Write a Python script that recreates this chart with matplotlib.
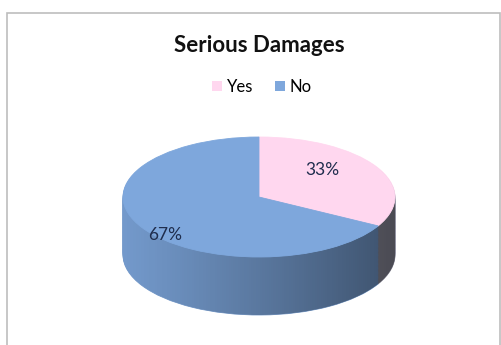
import matplotlib
matplotlib.use("Agg")
import matplotlib.pyplot as plt
import numpy as np
from matplotlib.patches import Rectangle, Polygon, Patch

# data
labels = ["Yes", "No"]
values = [33, 67]
top_colors = ["#FFD7EF", "#7EA7DC"]
side_colors = ["#8C8C9C", "#7399CB"]

plt.rcParams['font.family'] = ['Lato', 'DejaVu Sans']

W, H = 502, 345
fig = plt.figure(figsize=(W / 100, H / 100), dpi=100)
fig.patch.set_facecolor("white")

# chart frame
fig.patches.append(Rectangle((7 / W, -0.05), 493 / W, 1 - 13 / H + 0.05,
                             transform=fig.transFigure, fill=False,
                             edgecolor="#BDBDBD", linewidth=1.2))

# pie area (pixel box)
x0, x1, ytop, ybot = 123, 395, 137, 315
ry = 60.0
depth = 58.0 / ry
ax = fig.add_axes([x0 / W, 1 - ybot / H, (x1 - x0) / W, (ybot - ytop) / H])

# side of the 3d pie: stacked layers
for d in np.linspace(depth, 0.02, 45):
    ws, _ = ax.pie(values, colors=side_colors, startangle=90, counterclock=False,
                   center=(0, -d), radius=1, wedgeprops=dict(linewidth=0.6))
    for w in ws:
        w.set_edgecolor(w.get_facecolor())

# shading of the side band
t = np.linspace(np.pi, 2 * np.pi, 200)
band = np.concatenate([np.c_[np.cos(t), np.sin(t)],
                       np.c_[np.cos(t[::-1]), np.sin(t[::-1]) - depth]])
band_patch = Polygon(band, closed=True, facecolor="none", edgecolor="none")
ax.add_patch(band_patch)
grad = np.zeros((2, 256, 4))
grad[..., 3] = np.linspace(0.0, 0.5, 256) ** 1.1
img = ax.imshow(grad, extent=(-1, 1, -1 - depth, 0.2), aspect="auto",
                interpolation="bilinear", zorder=3)
img.set_clip_path(band_patch)

# top face
wedges, _ = ax.pie(values, colors=top_colors, startangle=90, counterclock=False,
                   radius=1, wedgeprops=dict(linewidth=0.6))
for w in wedges:
    w.set_edgecolor(w.get_facecolor())
    w.set_zorder(4)

ax.set_aspect("auto")
ax.set_xlim(-1, 1)
ax.set_ylim(1 - (ybot - ytop) / ry, 1)
ax.axis("off")

# data labels
label_pos = [(322, 170), (165, 235)]
for v, (px, py) in zip(values, label_pos):
    fig.text(px / W, 1 - py / H, f"{v}%", ha="center", va="center",
             fontsize=12.5, color="#1F2D4D")

fig.text(259 / W, 1 - 45 / H, "Serious Damages", ha="center", va="center",
         fontsize=16, fontweight="bold", color="#111111")

handles = [Patch(facecolor=c, edgecolor="none") for c in top_colors]
fig.legend(handles, labels, loc="center", bbox_to_anchor=(262 / W, 1 - 87 / H),
           ncol=2, frameon=False, fontsize=12, handlelength=0.6, handleheight=0.6,
           handletextpad=0.3, columnspacing=1.3)

fig.savefig("out.png", dpi=100, facecolor="white")
